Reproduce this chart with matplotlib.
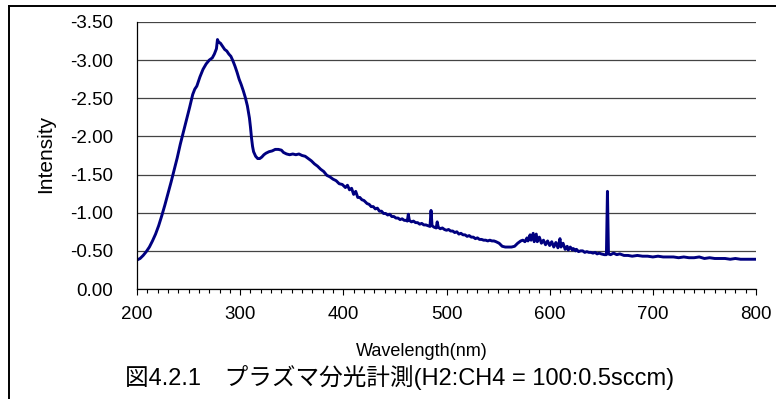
import matplotlib
matplotlib.use("Agg")
import matplotlib.pyplot as plt
from matplotlib.lines import Line2D
from matplotlib.ticker import MultipleLocator, FormatStrFormatter

# Spectrum (wavelength in nm, intensity as shown: negative, axis inverted)
wavelength = [
    200, 203, 206, 209, 212, 215, 218, 221, 224, 227, 230, 233, 236, 239, 242,
    245, 248, 251, 254, 256, 258, 261, 264, 267, 270, 273, 275, 277, 278, 279,
    281, 283, 285, 287, 289, 291, 293, 295, 297, 299, 301, 303, 305, 307, 309,
    310, 311, 312, 313, 315, 317, 319, 321, 323, 325, 328, 331, 334, 337, 340,
    342, 345, 348, 351, 354, 357, 360, 363, 366, 369, 372, 375, 378, 381, 384,
    387, 390, 393, 396, 399, 402, 404, 406, 408, 410, 412, 414, 416, 418, 420,
    423, 425, 427, 429, 431, 433, 435, 437, 439, 441, 443, 445, 447, 449, 451,
    453, 455, 457, 459, 461, 462, 463, 464, 466, 468, 470, 472, 474, 476, 478,
    480, 482, 484, 485, 486, 488, 490, 491, 492, 494, 496, 498, 500, 502, 504,
    506, 508, 510, 512, 514, 516, 518, 520, 522, 524, 526, 528, 530, 532, 534,
    536, 538, 540, 542, 544, 546, 548, 551, 554, 557, 560, 563, 566, 569, 572,
    574, 576, 578, 579, 581, 582, 584, 585, 587, 588, 590, 592, 594, 596, 598,
    600, 602, 604, 606, 608, 610, 611, 613, 615, 617, 618, 620, 622, 623, 625,
    626, 628, 630, 632, 634, 636, 638, 640, 642, 644, 646, 648, 650, 653, 655,
    656, 657, 659, 662, 665, 668, 670, 672, 676, 680, 685, 690, 695, 700, 705,
    710, 715, 720, 725, 730, 735, 740, 745, 750, 755, 760, 765, 770, 775, 780,
    785, 790, 795, 800,
]
intensity = [
    -0.38, -0.40, -0.44, -0.49, -0.55, -0.63, -0.72, -0.83, -0.96, -1.10, -1.25, -1.40, -1.56, -1.72, -1.90,
    -2.06, -2.22, -2.38, -2.55, -2.62, -2.66, -2.78, -2.88, -2.95, -3.00, -3.03, -3.08, -3.15, -3.27, -3.24,
    -3.22, -3.18, -3.14, -3.12, -3.08, -3.05, -2.99, -2.92, -2.84, -2.75, -2.68, -2.60, -2.51, -2.40, -2.24,
    -2.12, -1.98, -1.87, -1.80, -1.74, -1.71, -1.71, -1.73, -1.76, -1.78, -1.80, -1.81, -1.83, -1.83, -1.82,
    -1.79, -1.77, -1.76, -1.77, -1.76, -1.77, -1.75, -1.74, -1.71, -1.68, -1.64, -1.61, -1.57, -1.54, -1.49,
    -1.47, -1.44, -1.42, -1.38, -1.37, -1.33, -1.36, -1.30, -1.32, -1.24, -1.28, -1.20, -1.20, -1.17, -1.16,
    -1.12, -1.11, -1.08, -1.08, -1.05, -1.06, -1.02, -1.02, -0.99, -0.99, -0.97, -0.98, -0.95, -0.95, -0.93,
    -0.93, -0.91, -0.92, -0.90, -0.90, -0.89, -0.98, -0.90, -0.88, -0.89, -0.87, -0.87, -0.85, -0.86, -0.84,
    -0.84, -0.83, -0.82, -1.03, -0.83, -0.81, -0.80, -0.88, -0.81, -0.79, -0.80, -0.78, -0.77, -0.78, -0.76,
    -0.76, -0.74, -0.75, -0.72, -0.73, -0.71, -0.71, -0.69, -0.70, -0.68, -0.68, -0.66, -0.67, -0.65, -0.65,
    -0.64, -0.64, -0.63, -0.64, -0.63, -0.63, -0.62, -0.60, -0.56, -0.55, -0.55, -0.55, -0.56, -0.60, -0.63,
    -0.64, -0.62, -0.67, -0.63, -0.71, -0.64, -0.73, -0.62, -0.72, -0.62, -0.68, -0.60, -0.64, -0.58, -0.63,
    -0.57, -0.62, -0.55, -0.61, -0.54, -0.66, -0.55, -0.60, -0.52, -0.56, -0.51, -0.55, -0.51, -0.53, -0.50,
    -0.52, -0.49, -0.50, -0.50, -0.48, -0.49, -0.48, -0.48, -0.47, -0.48, -0.46, -0.47, -0.46, -0.45, -0.45,
    -1.28, -0.46, -0.45, -0.47, -0.45, -0.46, -0.45, -0.44, -0.44, -0.43, -0.44, -0.43, -0.43, -0.42, -0.43,
    -0.42, -0.42, -0.42, -0.41, -0.42, -0.41, -0.41, -0.42, -0.40, -0.41, -0.40, -0.40, -0.40, -0.39, -0.40,
    -0.39, -0.39, -0.39, -0.39,
]

y_ticks = [0.0, -0.5, -1.0, -1.5, -2.0, -2.5, -3.0, -3.5]
x_ticks = [200, 300, 400, 500, 600, 700, 800]

x_label = "Wavelength(nm)"
y_label = "Intensity"
caption = "図4.2.1\u3000プラズマ分光計測(H2:CH4 = 100:0.5sccm)"

plt.rcParams['font.family'] = ['Liberation Sans', 'Noto Sans CJK JP', 'DejaVu Sans']

fig = plt.figure(figsize=(7.76, 3.99), dpi=100)
ax = fig.add_axes([137 / 776, 1 - 289 / 399, 619 / 776, 267 / 399])

ax.plot(wavelength, intensity, color='#000080', lw=2.1, solid_joinstyle='round')

ax.set_xlim(200, 800)
ax.set_ylim(0, -3.5)
ax.set_xticks(x_ticks)
ax.xaxis.set_minor_locator(MultipleLocator(10))
ax.set_yticks(y_ticks)
ax.yaxis.set_major_formatter(FormatStrFormatter('%.2f'))

ax.grid(axis='y', color='#444444', lw=0.9)
ax.set_axisbelow(True)
for side in ['top', 'right']:
    ax.spines[side].set_visible(False)
for side in ['left', 'bottom']:
    ax.spines[side].set_color('black')
    ax.spines[side].set_linewidth(0.9)

ax.tick_params(axis='x', which='major', direction='out', length=4, width=0.8,
               pad=8, labelsize=13.5)
ax.tick_params(axis='x', which='minor', direction='out', length=2.6, width=0.8)
ax.tick_params(axis='y', length=0, pad=17, labelsize=13.5)

fig.text(422 / 776, 1 - 352 / 399, x_label, ha='center', va='center', fontsize=13)
fig.text(46 / 776, 1 - 154 / 399, y_label, ha='center', va='center', rotation=90, fontsize=15)
fig.text(400 / 776, 1 - 377 / 399, caption, ha='center', va='center', fontsize=17)

# outer frame, cropped on the right and bottom like the original
fx = 8.5 / 776
fy = 1 - 5.5 / 399
fig.add_artist(Line2D([fx, fx], [0, fy], color='black', lw=1.4, transform=fig.transFigure))
fig.add_artist(Line2D([fx, 1], [fy, fy], color='black', lw=1.4, transform=fig.transFigure))

fig.savefig('out.png', dpi=100)
